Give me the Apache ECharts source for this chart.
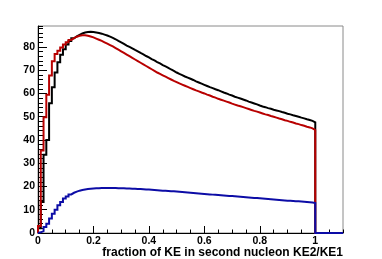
<!DOCTYPE html>
<html>
<head>
<meta charset="utf-8">
<script src="https://cdn.jsdelivr.net/npm/echarts@6/dist/echarts.min.js"></script>
<style>html,body{margin:0;padding:0;background:#fff;}#c{width:382px;height:259px;}</style>
</head>
<body>
<div id="c"></div>
<script>
// Histogram: 100 bins of width 0.01 from 0 to 1.0 (axis runs to 1.1, empty beyond 1)
const binWidth = 0.01;
const xMin = 0, xMax = 1.1, yMin = 0, yMax = 89;
const xTickLabels = ['0', '0.2', '0.4', '0.6', '0.8', '1'];
const yTickLabels = ['0', '10', '20', '30', '40', '50', '60', '70', '80'];
const xTitle = 'fraction of KE in second nucleon KE2/KE1';

const blackValues = [2.0, 13.3, 33.6, 40.0, 55.8, 62.7, 69.0, 73.4, 76.6, 79.0,
 81.0, 82.5, 83.7, 84.5, 85.2, 85.8, 86.2, 86.4, 86.5, 86.4,
 86.2, 86.0, 85.7, 85.3, 84.9, 84.4, 83.9, 83.3, 82.6, 82.0,
 81.3, 80.6, 80.0, 79.4, 78.7, 78.1, 77.4, 76.8, 76.1, 75.5,
 74.8, 74.2, 73.5, 72.9, 72.2, 71.6, 71.0, 70.3, 69.7, 69.0,
 68.4, 67.9, 67.3, 66.8, 66.3, 65.8, 65.2, 64.7, 64.2, 63.7,
 63.2, 62.7, 62.3, 61.8, 61.4, 60.9, 60.4, 60.0, 59.5, 59.1,
 58.6, 58.2, 57.8, 57.4, 57.0, 56.5, 56.1, 55.7, 55.3, 54.8,
 54.4, 54.1, 53.7, 53.4, 53.0, 52.7, 52.4, 52.0, 51.7, 51.3,
 51.0, 50.6, 50.3, 50.0, 49.6, 49.3, 48.9, 48.6, 48.2, 47.6];

const redValues = [3.0, 35.5, 49.8, 59.4, 67.7, 73.8, 77.0, 78.4, 79.8, 81.0,
 82.0, 83.0, 83.8, 84.4, 84.8, 85.0, 85.0, 84.8, 84.5, 84.1,
 83.6, 83.1, 82.6, 82.0, 81.4, 80.8, 80.2, 79.5, 78.8, 78.1,
 77.4, 76.7, 76.0, 75.3, 74.6, 73.9, 73.2, 72.5, 71.8, 71.1,
 70.4, 69.7, 69.0, 68.4, 67.8, 67.2, 66.6, 66.0, 65.4, 64.9,
 64.3, 63.8, 63.3, 62.8, 62.3, 61.8, 61.3, 60.9, 60.4, 60.0,
 59.5, 59.1, 58.6, 58.2, 57.7, 57.3, 56.9, 56.5, 56.1, 55.6,
 55.2, 54.8, 54.5, 54.1, 53.7, 53.3, 52.9, 52.5, 52.2, 51.8,
 51.4, 51.0, 50.7, 50.3, 50.0, 49.6, 49.2, 48.9, 48.5, 48.2,
 47.8, 47.5, 47.1, 46.8, 46.4, 46.1, 45.7, 45.4, 45.0, 44.3];

const blueValues = [0.3, 0.8, 2.6, 4.0, 6.2, 8.3, 10.0, 11.9, 13.3, 14.8,
 15.7, 16.6, 17.3, 17.8, 18.2, 18.5, 18.7, 18.9, 19.0, 19.1,
 19.2, 19.2, 19.3, 19.3, 19.3, 19.3, 19.3, 19.3, 19.2, 19.2,
 19.2, 19.1, 19.1, 19.0, 19.0, 18.9, 18.9, 18.8, 18.7, 18.7,
 18.6, 18.5, 18.4, 18.3, 18.2, 18.2, 18.1, 18.0, 17.9, 17.8,
 17.7, 17.6, 17.5, 17.4, 17.3, 17.2, 17.1, 17.0, 16.9, 16.8,
 16.7, 16.6, 16.5, 16.4, 16.3, 16.2, 16.1, 16.0, 15.9, 15.9,
 15.8, 15.7, 15.6, 15.5, 15.4, 15.3, 15.2, 15.1, 15.0, 14.9,
 14.8, 14.7, 14.6, 14.5, 14.4, 14.3, 14.2, 14.1, 14.0, 13.9,
 13.9, 13.8, 13.7, 13.6, 13.5, 13.4, 13.3, 13.2, 13.1, 12.9];

function stepPoints(vals) {
  const pts = [[0, 0]];
  for (let i = 0; i < vals.length; i++) {
    const lo = +(i * binWidth).toFixed(4), hi = +((i + 1) * binWidth).toFixed(4);
    pts.push([lo, vals[i]], [hi, vals[i]]);
  }
  const end = +(vals.length * binWidth).toFixed(4);
  pts.push([end, 0], [xMax, 0]);
  return pts;
}

const font = '"Liberation Sans", Arial, Helvetica, sans-serif';
const chart = echarts.init(document.getElementById('c'), null, {renderer: 'canvas'});

function fmtX(v) {
  const s = String(+v.toFixed(4));
  return xTickLabels.indexOf(s) >= 0 ? s : '';
}
function fmtY(v) {
  const s = String(+v.toFixed(4));
  return yTickLabels.indexOf(s) >= 0 ? s : '';
}

const mkSeries = (name, vals, color) => ({
  name, type: 'line', data: stepPoints(vals), showSymbol: false, symbol: 'none',
  clip: false, xAxisIndex: 0, yAxisIndex: 0,
  lineStyle: {color, width: 2, join: 'miter'}, animation: false
});

chart.setOption({
  animation: false,
  grid: {left: 38, right: 39, top: 26, bottom: 26, show: true, borderColor: '#8a8a8a', borderWidth: 1, backgroundColor: 'transparent'},
  xAxis: [
    {type: 'value', min: xMin, max: xMax, interval: 0.2,
     axisLine: {show: true, lineStyle: {color: '#000', width: 1}},
     axisTick: {show: true, inside: true, length: 7, lineStyle: {color: '#000', width: 1}},
     splitLine: {show: false},
     axisLabel: {formatter: fmtX, margin: 3, color: '#000', fontSize: 10.5, fontWeight: 'bold', fontFamily: font, showMaxLabel: false}},
    {type: 'value', min: xMin, max: xMax, interval: 0.05, position: 'bottom',
     axisLine: {show: false}, axisLabel: {show: false}, splitLine: {show: false},
     axisTick: {show: true, inside: true, length: 3.5, lineStyle: {color: '#000', width: 1}}}
  ],
  yAxis: [
    {type: 'value', min: yMin, max: yMax, interval: 10,
     axisLine: {show: true, lineStyle: {color: '#000', width: 1}},
     axisTick: {show: true, inside: true, length: 9, lineStyle: {color: '#000', width: 1}},
     splitLine: {show: false},
     axisLabel: {formatter: fmtY, margin: 3, color: '#000', fontSize: 10.5, fontWeight: 'bold', fontFamily: font, showMaxLabel: false}},
    {type: 'value', min: yMin, max: yMax, interval: 2, position: 'left',
     axisLine: {show: false}, axisLabel: {show: false}, splitLine: {show: false},
     axisTick: {show: true, inside: true, length: 5, lineStyle: {color: '#000', width: 1}}}
  ],
  series: [
    mkSeries('black', blackValues, '#000000'),
    mkSeries('red', redValues, '#b80000'),
    mkSeries('blue', blueValues, '#0c0ca6')
  ],
  graphic: [{
    type: 'text', right: 39, top: 247,
    style: {text: xTitle, font: 'bold 12px ' + font, fill: '#000'}
  }]
});
</script>
</body>
</html>
